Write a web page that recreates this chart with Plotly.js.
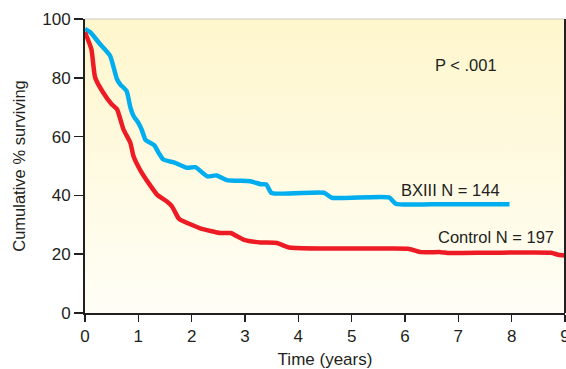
<!DOCTYPE html>
<html>
<head>
<meta charset="utf-8">
<script src="https://cdn.plot.ly/plotly-3.0.1.min.js"></script>
<style>html,body{margin:0;padding:0;background:#fff;}#chart{width:566px;height:369px;}</style>
</head>
<body>
<div id="chart"></div>
<script>
// BXIII series (time in years, cumulative % surviving)
var bxiiiTime = [0, 0.1, 0.28, 0.47, 0.53, 0.6, 0.66, 0.78, 0.85, 0.91, 1.0, 1.06, 1.13, 1.16, 1.3, 1.38, 1.47, 1.69, 1.91, 2.07, 2.29, 2.47, 2.66, 3.1, 3.3, 3.4, 3.5, 4.48, 4.63, 5.7, 5.83, 6.5, 7.96];
var bxiiiSurv = [96.6, 95.5, 91.5, 87.5, 84, 79.5, 77.8, 75.5, 70, 67, 64.7, 62.5, 59, 58.5, 57, 54.5, 52.2, 51.1, 49.4, 49.6, 46.5, 46.8, 45.2, 44.8, 43.8, 43.7, 40.8, 40.9, 39.2, 39.3, 37.1, 37.0, 37.0];
// Control series
var controlTime = [0, 0.12, 0.19, 0.34, 0.5, 0.6, 0.72, 0.85, 0.91, 1.03, 1.2, 1.35, 1.53, 1.63, 1.75, 1.79, 2.16, 2.54, 2.73, 2.98, 3.29, 3.6, 3.82, 5.55, 6.08, 6.3, 6.67, 6.8, 7.6, 8.74, 8.87, 9];
var controlSurv = [95.5, 89.7, 80.1, 75, 71, 69.3, 62.5, 57.9, 53.3, 48.8, 44, 40.3, 38, 36.3, 32.3, 31.7, 28.8, 27.2, 27.2, 24.9, 24, 23.8, 22.3, 21.9, 21.8, 20.7, 20.7, 20.4, 20.5, 20.5, 19.8, 19.6];
var seriesLabels = ["BXIII N = 144", "Control N = 197"];
var pLabel = "P < .001";
var xTicks = [0,1,2,3,4,5,6,7,8,9];
var yTicks = [0,20,40,60,80,100];

var FONT = "'Liberation Sans', Arial, sans-serif";
var INK = '#231F20';
var FS = 16.5;

var grad = 'data:image/svg+xml;utf8,' + encodeURIComponent(
  '<svg xmlns="http://www.w3.org/2000/svg" width="10" height="100" preserveAspectRatio="none">' +
  '<defs><linearGradient id="g" x1="0" y1="0" x2="0" y2="1">' +
  '<stop offset="0" stop-color="#FEF6CC"/><stop offset="1" stop-color="#FFFEF6"/></linearGradient></defs>' +
  '<rect width="10" height="100" fill="url(#g)"/></svg>');

var traces = [
  {x: bxiiiTime, y: bxiiiSurv, type: 'scatter', mode: 'lines', name: seriesLabels[0],
   line: {color: '#00AEEF', width: 4.5, shape: 'spline', smoothing: 0.5}, hoverinfo: 'skip'},
  {x: controlTime, y: controlSurv, type: 'scatter', mode: 'lines', name: seriesLabels[1],
   line: {color: '#ED1C24', width: 4.5, shape: 'spline', smoothing: 0.5}, hoverinfo: 'skip'}
];

var layout = {
  width: 566, height: 369,
  margin: {l: 85, r: 1, t: 19, b: 56},
  paper_bgcolor: '#ffffff',
  plot_bgcolor: 'rgba(0,0,0,0)',
  showlegend: false,
  font: {family: FONT, color: INK, size: FS},
  images: [{source: grad, xref: 'paper', yref: 'paper', x: 0, y: 1, sizex: 1, sizey: 1,
            sizing: 'stretch', layer: 'below', xanchor: 'left', yanchor: 'top'}],
  xaxis: {
    range: [0, 9], tickvals: xTicks, ticktext: xTicks.map(String),
    showgrid: false, zeroline: false, showline: true, linecolor: INK, linewidth: 2,
    ticks: 'outside', ticklen: 7, tickwidth: 1.5, tickcolor: INK,
    ticklabeloverflow: 'allow',
    tickfont: {family: FONT, size: FS + 0.5, color: INK},
    title: {text: 'Time (years)', font: {family: FONT, size: FS + 0.5, color: INK}, standoff: 11}
  },
  yaxis: {
    range: [0, 100], tickvals: yTicks, ticktext: yTicks.map(String),
    showgrid: false, zeroline: false, showline: true, linecolor: INK, linewidth: 2,
    ticks: 'outside', ticklen: 9, tickwidth: 1.5, tickcolor: INK,
    tickfont: {family: FONT, size: FS + 0.5, color: INK},
    title: {text: 'Cumulative % surviving', font: {family: FONT, size: FS, color: INK}, standoff: 12}
  },
  shapes: [
    {type: 'line', xref: 'paper', yref: 'paper', x0: 0, x1: 1, y0: 1, y1: 1, line: {color: '#C8C6BE', width: 1}},
    {type: 'line', xref: 'paper', yref: 'paper', x0: 1, x1: 1, y0: 0, y1: 1, line: {color: INK, width: 2}}
  ],
  annotations: [
    {text: pLabel, xref: 'x', yref: 'y', x: 7.15, y: 84.5, showarrow: false, font: {family: FONT, size: FS, color: INK}},
    {text: seriesLabels[0], xref: 'x', yref: 'y', x: 6.85, y: 41.8, showarrow: false, font: {family: FONT, size: FS, color: INK}},
    {text: seriesLabels[1], xref: 'x', yref: 'y', x: 7.7, y: 25.8, showarrow: false, font: {family: FONT, size: FS, color: INK}}
  ]
};

Plotly.newPlot('chart', traces, layout, {displayModeBar: false, staticPlot: true});
</script>
</body>
</html>
